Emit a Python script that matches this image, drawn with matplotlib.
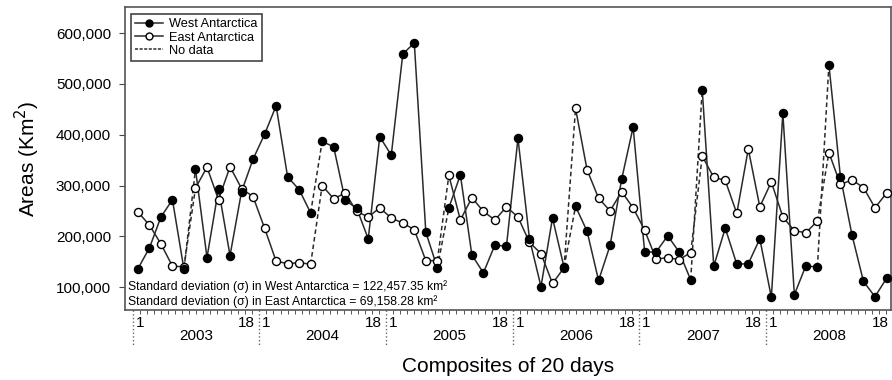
import matplotlib
matplotlib.use("Agg")
import matplotlib.pyplot as plt
import numpy as np
from matplotlib import transforms
from matplotlib.lines import Line2D
from matplotlib.ticker import FuncFormatter

plt.rcParams['font.family'] = ['Liberation Sans', 'DejaVu Sans']

## Data (km2, 11 composites shown per year)

years = ['2003', '2004', '2005', '2006', '2007', '2008']
west = [136, 177, 238, 272, 135, 332, 158, 293, 162, 288, 352,
        401, 457, 317, 292, 246, 387, 376, 271, 255, 195, 396,
        360, 559, 581, 208, 138, 256, 321, 163, 128, 183, 180,
        393, 195, 101, 236, 139, 259, 210, 113, 182, 312, 415,
        169, 169, 201, 169, 114, 489, 141, 216, 145, 146, 195,
        80, 442, 85, 142, 139, 538, 317, 203, 111, 81, 117]
east = [248, 222, 185, 141, 140, 295, 336, 272, 337, 294, 278,
        216, 151, 146, 148, 145, 300, 274, 285, 249, 238, 256,
        236, 226, 213, 152, 152, 320, 232, 276, 249, 232, 258,
        238, 188, 166, 107, 138, 452, 331, 275, 250, 288, 256,
        212, 155, 158, 154, 168, 358, 316, 310, 245, 372, 258,
        307, 238, 211, 207, 230, 365, 302, 311, 296, 256, 285]
gap_after = 4  # "no data" between 5th and 6th composite of each year
sd_west = "122,457.35"
sd_east = "69,158.28"

west = np.array(west) * 1000.0
east = np.array(east) * 1000.0
n_per_year = 11
x = np.arange(len(west))

fig = plt.figure(figsize=(8.92, 3.8), dpi=100)
ax = fig.add_axes([0.140, 0.184, 0.859, 0.798])

lc = '#2a2a2a'

def draw(vals, face):
    # solid runs, dashed across the gap
    starts = [0] + [y * n_per_year + gap_after + 1 for y in range(len(years))]
    ends = [y * n_per_year + gap_after for y in range(len(years))] + [len(vals) - 1]
    for s, e in zip(starts, ends):
        ax.plot(x[s:e + 1], vals[s:e + 1], '-', color=lc, lw=1.1, zorder=2)
    for y in range(len(years)):
        k = y * n_per_year + gap_after
        ax.plot(x[k:k + 2], vals[k:k + 2], '--', color=lc, lw=1.1,
                dashes=(3, 2), zorder=2)
    ax.plot(x, vals, 'o', ms=5.8, mfc=face, mec='black', mew=1.0, ls='none', zorder=3)

draw(east, 'white')
draw(west, 'black')

## Axes ranges

ax.set_xlim(-1.13, 65.4)
ax.set_ylim(54600, 652000)

ax.set_yticks([100000, 200000, 300000, 400000, 500000, 600000])
ax.yaxis.set_major_formatter(FuncFormatter(lambda v, p: "{:,.0f}".format(v)))
ax.tick_params(axis='y', labelsize=11, length=4, width=0.8, color='#444444', pad=6)
ax.set_ylabel("Areas (Km$^2$)", fontsize=15, labelpad=10)

for sp in ax.spines.values():
    sp.set_color('#555555')
    sp.set_linewidth(1.2)

## X axis: 18 composites per year, year separators

seps = [y * n_per_year - 0.45 for y in range(len(years) + 1)]
minor = []
for y in range(len(years)):
    minor += list(np.linspace(seps[y], seps[y + 1], 19)[1:-1])
ax.set_xticks(minor)
ax.set_xticklabels([])
ax.tick_params(axis='x', length=3, width=0.7, color='#555555')

trans = transforms.blended_transform_factory(ax.transData, ax.transAxes)
for s in seps:
    ax.plot([s, s], [0, -0.115], ls=':', color='#666666', lw=1.0,
            transform=trans, clip_on=False)
for y in range(len(years)):
    ax.text(seps[y] + 0.25, -0.02, "1", transform=trans, ha='left', va='top', fontsize=11)
    ax.text(seps[y + 1] - 0.35, -0.02, "18", transform=trans, ha='right', va='top', fontsize=11)
    ax.text((seps[y] + seps[y + 1]) / 2, -0.063, years[y], transform=trans,
            ha='center', va='top', fontsize=11)

ax.set_xlabel("Composites of 20 days", fontsize=15, labelpad=27)

## Std dev text

ax.text(0.004, 0.008,
        "Standard deviation (\u03c3) in West Antarctica = " + sd_west + " km\u00b2\n"
        "Standard deviation (\u03c3) in East Antarctica = " + sd_east + " km\u00b2",
        transform=ax.transAxes, fontsize=8.7, va='bottom', ha='left', linespacing=1.2)

## Legend

handles = [Line2D([], [], color=lc, lw=1.1, marker='o', ms=5, mfc='black', mec='black'),
           Line2D([], [], color=lc, lw=1.1, marker='o', ms=5, mfc='white', mec='black'),
           Line2D([], [], color=lc, lw=1.1, ls='--', dashes=(2, 1))]
leg = ax.legend(handles, ["West Antarctica", "East Antarctica", "No data"],
                loc='upper left', bbox_to_anchor=(0.008, 0.975), fontsize=9.2,
                fancybox=False, framealpha=1, edgecolor='#444444',
                handlelength=2.2, handletextpad=0.5, labelspacing=0.1,
                borderpad=0.3, borderaxespad=0)
leg.get_frame().set_linewidth(1.2)

fig.savefig("out.png", dpi=100)
